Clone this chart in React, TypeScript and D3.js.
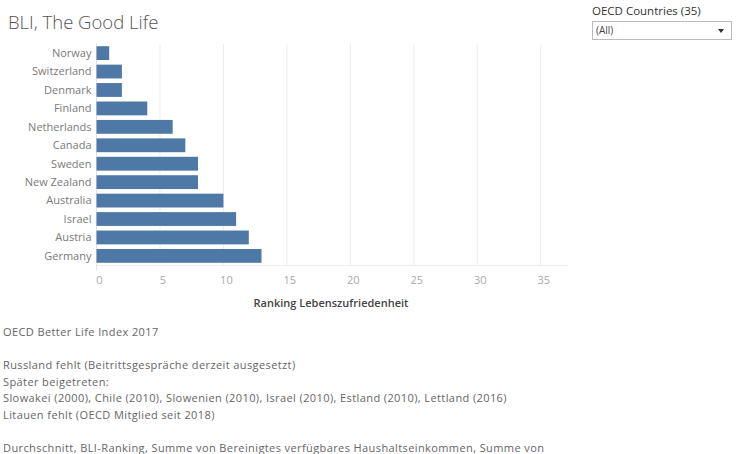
import React from 'react';
import * as d3 from 'd3';

// values
const countries = ['Norway', 'Switzerland', 'Denmark', 'Finland', 'Netherlands', 'Canada',
  'Sweden', 'New Zealand', 'Australia', 'Israel', 'Austria', 'Germany'];
const ranking = [1, 2, 2, 4, 6, 7, 8, 8, 10, 11, 12, 13];
const xTicks = [0, 5, 10, 15, 20, 25, 30, 35];
const captionLines = [
  'OECD Better Life Index 2017',
  '',
  'Russland fehlt (Beitrittsgespräche derzeit ausgesetzt)',
  'Später beigetreten:',
  'Slowakei (2000), Chile (2010), Slowenien (2010), Israel (2010), Estland (2010), Lettland (2016)',
  'Litauen fehlt (OECD Mitglied seit 2018)',
  '',
  'Durchschnitt, BLI-Ranking, Summe von Bereinigtes verfügbares Haushaltseinkommen, Summe von',
];

const W = 736;
const H = 454;
const plot = { left: 96.5, right: 568, top: 44, bottom: 265 };
const font = "'Open Sans', 'DejaVu Sans', sans-serif";

export default function App() {
  const x = d3.scaleLinear().domain([0, 37.15]).range([plot.left, plot.right]);
  const y = d3.scaleBand<string>()
    .domain(countries)
    .range([plot.top, plot.bottom])
    .paddingInner(0.25)
    .paddingOuter(0.12);

  return (
    <svg width={W} height={H} style={{ position: 'absolute', left: 0, top: 0, fontFamily: font }}>
      <rect width={W} height={H} fill="#fff" />
      <text x={8} y={29} fontSize={18.5} fill="#555" fontWeight={300}>BLI, The Good Life</text>

      {/* gridlines */}
      {xTicks.slice(1).map(t => (
        <line key={t} x1={x(t)} x2={x(t)} y1={plot.top} y2={plot.bottom} stroke="#ececec" strokeWidth={1} />
      ))}
      <line x1={plot.left} x2={plot.right} y1={plot.bottom + 0.5} y2={plot.bottom + 0.5} stroke="#ececec" />
      <line x1={plot.left} x2={plot.left} y1={plot.top} y2={plot.bottom + 5} stroke="#e4e4e4" />

      {/* bars */}
      {countries.map((c, i) => (
        <g key={c}>
          <rect x={x(0)} y={y(c)} width={x(ranking[i]) - x(0)} height={y.bandwidth()} fill="#4e79a7" />
          <text x={plot.left - 5} y={(y(c) ?? 0) + y.bandwidth() / 2} dy="0.35em" textAnchor="end"
            fontSize={11} fill="#7a7a7a">{c}</text>
        </g>
      ))}

      {/* x axis */}
      {xTicks.map(t => (
        <text key={t} x={x(t) + 3} y={284} textAnchor="middle" fontSize={11} fill="#aaa">{t}</text>
      ))}
      <text x={331} y={307} textAnchor="middle" fontSize={11} fill="#444" fontWeight={600}>Ranking Lebenszufriedenheit</text>

      {/* caption */}
      {captionLines.map((l, i) => (
        <text key={i} x={3} y={336 + i * 16.6} fontSize={11} letterSpacing={0.4} fill="#666">{l}</text>
      ))}

      {/* filter control */}
      <text x={592} y={15} fontSize={11.5} fill="#333">OECD Countries (35)</text>
      <rect x={592.5} y={21.5} width={139} height={18} fill="#fff" stroke="#bbb" />
      <text x={596} y={34} fontSize={10} fill="#444">(All)</text>
      <path d="M718,29 L724,29 L721,33 Z" fill="#333" />
    </svg>
  );
}
